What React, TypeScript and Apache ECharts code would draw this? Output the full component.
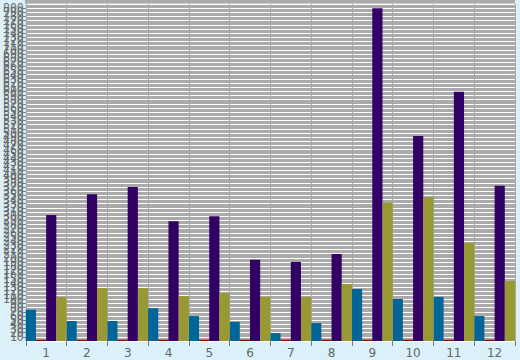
import React, { useEffect, useRef } from "react";
import * as echarts from "echarts";

const categories = ["1", "2", "3", "4", "5", "6", "7", "8", "9", "10", "11", "12"];
const tealValues = [75, 48, 48, 79, 60, 46, 19, 43, 125, 101, 106, 60];
const redValues = [3, 3, 3, 3, 3, 3, 3, 3, 3, 3, 3, 3];
const purpleValues = [303, 353, 370, 288, 300, 195, 190, 209, 800, 493, 599, 373];
const oliveValues = [106, 127, 127, 108, 115, 106, 106, 137, 332, 346, 236, 144];
const yMin = 0;
const yMax = 810;
const yInterval = 10;

export default function App() {
  const ref = useRef<HTMLDivElement>(null);
  useEffect(() => {
    if (!ref.current) return;
    const chart = echarts.init(ref.current, null, { renderer: "svg" });
    const mk = (name: string, data: number[], color: string) => ({
      name,
      type: "bar",
      data,
      barGap: "0%",
      barCategoryGap: "0%",
      z: 5,
      itemStyle: { color },
    });
    chart.setOption({
      animation: false,
      backgroundColor: "#dbf0f8",
      grid: {
        left: 25,
        right: 5,
        top: 4,
        bottom: 19,
        show: true,
        backgroundColor: "#aaaaaa",
        borderWidth: 0,
      },
      graphic: [
        { type: "rect", shape: { x: 25, y: 0, width: 490, height: 3.5 }, style: { fill: "#aaaaaa" }, silent: true },
      ],
      xAxis: {
        type: "category",
        data: categories,
        z: 2,
        axisLine: { show: false },
        axisTick: { show: true, length: 5, lineStyle: { color: "#777777" } },
        splitLine: { show: true, lineStyle: { color: "#a8a8a8", width: 1 } },
        axisLabel: { color: "#666666", fontSize: 12, margin: 6, fontFamily: "DejaVu Sans" },
      },
      yAxis: {
        type: "value",
        min: yMin,
        max: yMax,
        interval: yInterval,
        z: 1,
        axisLine: { show: true, lineStyle: { color: "#777777", width: 1 } },
        axisTick: { show: true, length: 3, lineStyle: { color: "#777777" } },
        splitLine: { show: true, lineStyle: { color: "#ffffff", width: 1 } },
        axisLabel: { color: "#6a6a6a", fontSize: 11.5, margin: 2, fontFamily: "DejaVu Sans Mono" },
      },
      series: [
        mk("teal", tealValues, "#006699"),
        mk("red", redValues, "#990000"),
        mk("purple", purpleValues, "#330066"),
        mk("olive", oliveValues, "#999933"),
      ],
    });
    return () => chart.dispose();
  }, []);
  return <div ref={ref} style={{ width: 520, height: 360, position: "absolute", left: 0, top: 0 }} />;
}
